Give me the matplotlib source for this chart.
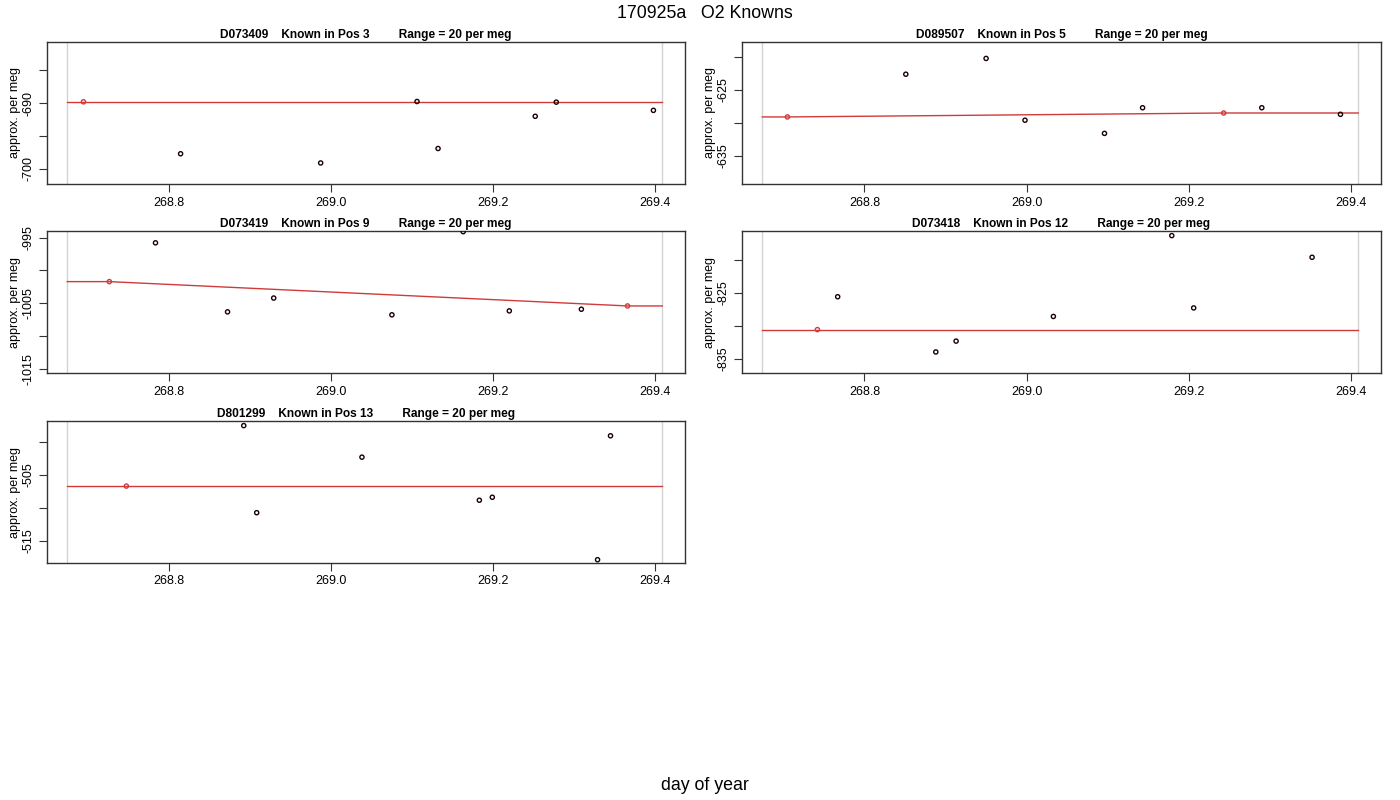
import numpy as np
import matplotlib
matplotlib.use("Agg")
import matplotlib.pyplot as plt

plt.rcParams['font.family'] = ['Liberation Sans', 'DejaVu Sans']

# day-of-year range covered by the run (grey guide lines)
day_lo, day_hi = 268.674, 269.409
x_lo, x_hi = 268.649, 269.437

titles = [
    "D073409    Known in Pos 3         Range = 20 per meg",
    "D089507    Known in Pos 5         Range = 20 per meg",
    "D073419    Known in Pos 9         Range = 20 per meg",
    "D073418    Known in Pos 12         Range = 20 per meg",
    "D801299    Known in Pos 13         Range = 20 per meg",
]

pos3_day = [268.694, 268.814, 268.987, 269.106, 269.132, 269.252, 269.278, 269.398]
pos3_val = [-689.8, -697.7, -699.1, -689.75, -696.9, -692.0, -689.85, -691.1]
pos3_ref = [0]

pos5_day = [268.705, 268.851, 268.950, 268.998, 269.096, 269.143, 269.243, 269.290, 269.387]
pos5_val = [-629.1, -622.6, -620.2, -629.6, -631.6, -627.7, -628.5, -627.7, -628.7]
pos5_ref = [0, 6]

pos9_day = [268.726, 268.783, 268.872, 268.929, 269.075, 269.163, 269.220, 269.309, 269.366]
pos9_val = [-1001.7, -995.8, -1006.3, -1004.2, -1006.75, -994.1, -1006.15, -1005.9, -1005.4]
pos9_ref = [0, 8]

pos12_day = [268.742, 268.767, 268.888, 268.913, 269.033, 269.179, 269.206, 269.352]
pos12_val = [-830.6, -825.6, -834.0, -832.35, -828.6, -816.3, -827.3, -819.6]
pos12_ref = [0]

pos13_day = [268.747, 268.892, 268.908, 269.038, 269.183, 269.199, 269.329, 269.345]
pos13_val = [-506.7, -497.5, -510.75, -502.3, -508.85, -508.4, -517.9, -499.05]
pos13_ref = [0]

# centre of each 20 per meg window
centres = [-691.5, -628.5, -1004.8, -826.4, -507.6]
labelled = [[-690, -700], [-625, -635], [-995, -1005, -1015], [-825, -835], [-505, -515]]

days = [pos3_day, pos5_day, pos9_day, pos12_day, pos13_day]
vals = [pos3_val, pos5_val, pos9_val, pos12_val, pos13_val]
refs = [pos3_ref, pos5_ref, pos9_ref, pos12_ref, pos13_ref]

W, H = 1400, 800
fig = plt.figure(figsize=(14, 8), dpi=100)

# panel boxes in pixels: left, top, right, bottom
boxes = [(47, 42, 685, 184), (742, 42, 1381, 184),
         (47, 231, 685, 373), (742, 231, 1381, 373),
         (47, 421, 685, 563)]

red = '#d03a3a'

for i in range(5):
    l, t, r, b = boxes[i]
    ax = fig.add_axes([l / W, 1 - b / H, (r - l) / W, (b - t) / H])
    x = np.array(days[i])
    y = np.array(vals[i])
    ref = refs[i]

    ax.axvline(day_lo, color='#d3d3d3', lw=1)
    ax.axvline(day_hi, color='#d3d3d3', lw=1)

    # reference line interpolated between the red points, held flat outside
    lx = np.concatenate([[day_lo], x[ref], [day_hi]])
    ly = np.interp(lx, x[ref], y[ref])
    ax.plot(lx, ly, color=red, lw=1, zorder=2)

    others = [k for k in range(len(x)) if k not in ref]
    ax.scatter(x[others], y[others], s=9, facecolors='none', edgecolors='#1a0000', linewidths=1, zorder=3)
    ax.scatter(x[ref], y[ref], s=9, facecolors='none', edgecolors=red, linewidths=1, zorder=3)

    ax.set_xlim(x_lo, x_hi)
    c = centres[i]
    ax.set_ylim(c - 10.8, c + 10.8)

    ax.set_xticks([268.8, 269.0, 269.2, 269.4])
    ax.set_xticklabels(["268.8", "269.0", "269.2", "269.4"], fontsize=9)
    yt = np.arange(np.ceil((c - 10.8) / 5) * 5, c + 10.8, 5)
    ax.set_yticks(yt)
    ax.set_yticklabels(["%d" % v if v in labelled[i] else "" for v in yt],
                       fontsize=9, rotation=90, va='center')
    ax.tick_params(length=6, width=0.8, color='#333333', pad=3)
    for s in ax.spines.values():
        s.set_color('#333333')
        s.set_linewidth(1)
    ax.set_ylabel("approx. per meg", fontsize=9, labelpad=1)
    ax.set_title(titles[i], fontsize=8.6, fontweight='bold', pad=3)

fig.text(705 / W, 1 - 13 / H, "170925a   O2 Knowns", ha='center', va='center', fontsize=12.8)
fig.text(705 / W, 1 - 785 / H, "day of year", ha='center', va='center', fontsize=12.8)

fig.savefig("out.png", dpi=100)
